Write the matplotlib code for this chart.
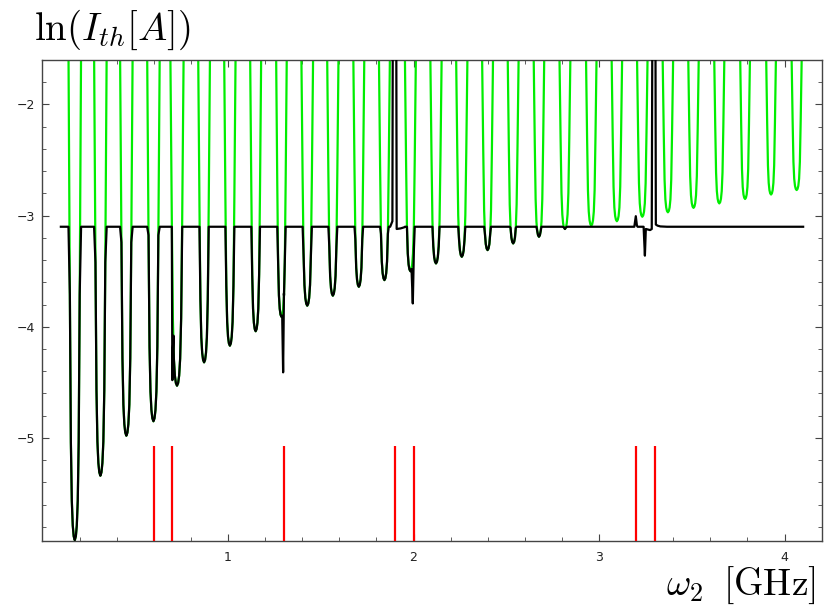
import numpy as np
import matplotlib
matplotlib.use('Agg')
import matplotlib.pyplot as plt
from matplotlib.ticker import MultipleLocator, FixedLocator

plt.rcParams['mathtext.fontset'] = 'cm'

# resonance dips of the green curve
dip_center = [0.174, 0.312, 0.452, 0.598, 0.725, 0.871, 1.010, 1.149, 1.288,
              1.427, 1.565, 1.705, 1.843, 1.983, 2.121, 2.260, 2.399, 2.537,
              2.676, 2.816, 2.958, 3.096, 3.233, 3.371, 3.509, 3.648, 3.787,
              3.927, 4.065]
dip_min = [-5.92, -5.34, -4.98, -4.85, -4.53, -4.32, -4.17, -4.04, -3.91,
           -3.81, -3.72, -3.64, -3.58, -3.50, -3.43, -3.37, -3.31, -3.25,
           -3.19, -3.12, -3.09, -3.05, -3.01, -2.97, -2.93, -2.89, -2.85,
           -2.81, -2.77]
dip_halfwidth = [0.034, 0.034, 0.034, 0.034, 0.036, 0.032, 0.031, 0.030, 0.029,
                 0.032, 0.031, 0.030, 0.030, 0.030, 0.031, 0.031, 0.030, 0.030,
                 0.029, 0.030, 0.029, 0.029, 0.029, 0.029, 0.029, 0.028, 0.027,
                 0.027, 0.028]

# shape of one dip: fraction of depth above the minimum vs fraction of half width
profile_frac = [1.0, 0.5, 0.2, 0.08, 0.03, 0.008, 0.0]
profile_width = [1.0, 0.78, 0.62, 0.47, 0.32, 0.17, 0.0]
top_level = -1.5     # green runs off the top between dips
base_level = -3.1    # flat level of the black curve
black_start, black_end = 0.099, 4.10

# places where the black curve does its own thing
black_features = [
    ([0.697, 0.700, 0.703, 0.706], [-3.10, -4.48, -4.20, -4.08]),
    ([1.292, 1.297, 1.3015], [-3.90, -4.41, -3.70]),
    ([1.874, 1.881, 1.886, 1.888, 1.907, 1.909, 1.930, 1.950],
     [-3.10, -3.07, -3.05, -1.40, -1.40, -3.12, -3.115, -3.105]),
    ([1.989, 1.996, 2.002], [-3.48, -3.79, -3.30]),
    ([3.190, 3.198, 3.204, 3.208, 3.240, 3.247, 3.252, 3.275, 3.284, 3.287,
      3.304, 3.306, 3.315, 3.330, 3.360],
     [-3.10, -3.005, -3.09, -3.10, -3.10, -3.36, -3.12, -3.13, -3.12, -1.40,
      -1.40, -3.08, -3.09, -3.097, -3.10]),
]

red_x = [0.6, 0.7, 1.3, 1.9, 2.0, 3.2, 3.3]
red_top = -5.07

# green curve
gx, gy = [], []
for c, m, w in zip(dip_center, dip_min, dip_halfwidth):
    for f, r in zip(profile_frac, profile_width):
        gx.append(c - r * w)
        gy.append(m + f * (top_level - m))
    for f, r in zip(profile_frac[-2::-1], profile_width[-2::-1]):
        gx.append(c + r * w)
        gy.append(m + f * (top_level - m))
gx = np.array(gx)
gy = np.array(gy)

# black curve: follows the dips below the flat level, plus its own features
bx = gx.copy()
by = np.minimum(gy, base_level)
for fx, fy in black_features:
    keep = (bx < fx[0]) | (bx > fx[-1])
    bx = np.concatenate([bx[keep], fx])
    by = np.concatenate([by[keep], fy])
bx = np.concatenate([bx, [black_start, black_end]])
by = np.concatenate([by, [base_level, base_level]])
order = np.argsort(bx, kind='stable')
bx, by = bx[order], by[order]

fig = plt.figure(figsize=(8.3, 6.1), dpi=100)
ax = fig.add_axes([0.0512, 0.1126, 0.9388, 0.789])

ax.plot(gx, gy, color='#00ee00', lw=1.6, zorder=2)
ax.plot(bx, by, color='black', lw=1.6, zorder=3)
ax.vlines(red_x, -6.0, red_top, color='#ff0000', lw=1.6, zorder=4)

ax.set_xlim(0, 4.2)
ax.set_ylim(-5.93, -1.60)

ax.xaxis.set_major_locator(FixedLocator([1, 2, 3, 4]))
ax.xaxis.set_minor_locator(MultipleLocator(0.2))
ax.yaxis.set_major_locator(FixedLocator([-5, -4, -3, -2]))
ax.yaxis.set_minor_locator(MultipleLocator(0.2))
ax.tick_params(which='both', direction='in', top=True, right=True,
               color='#444444', labelcolor='#222222', labelsize=9)
ax.tick_params(which='major', length=5, width=0.8)
ax.tick_params(which='minor', length=3, width=0.6)
ax.tick_params(axis='x', pad=7)
ax.tick_params(axis='y', pad=5)
for s in ax.spines.values():
    s.set_color('#444444')
    s.set_linewidth(1.0)

fig.text(0.041, 0.951, r'$\ln(I_{th}[A])$', fontsize=28, ha='left', va='center')
fig.text(0.983, 0.040, r'$\omega_2\;\;[\mathrm{GHz}]$', fontsize=27,
         ha='right', va='center')

fig.savefig('out.png', dpi=100)
